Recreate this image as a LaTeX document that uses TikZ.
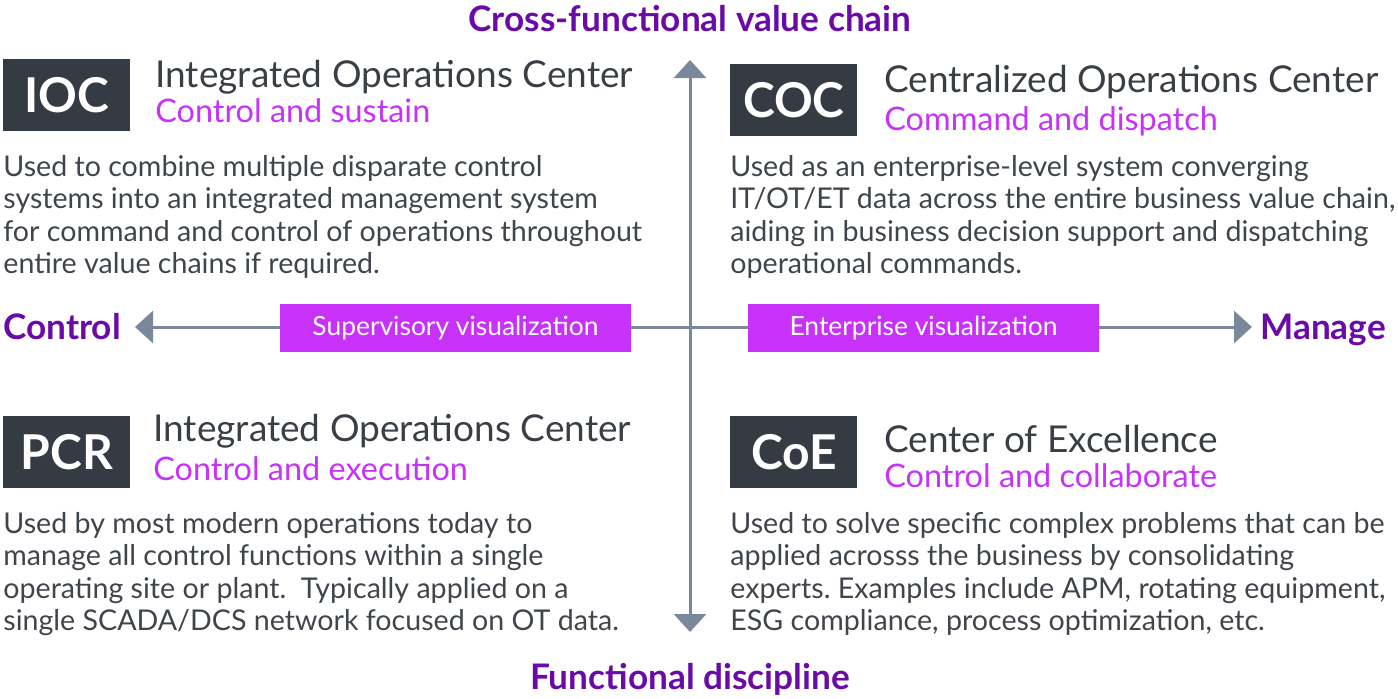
\documentclass[tikz,border=0pt]{standalone}
\usepackage{fontspec}
\setmainfont{Lato}
\usetikzlibrary{arrows.meta,positioning}
\definecolor{tagdark}{HTML}{353B42}
\definecolor{headgray}{HTML}{3A3F45}
\definecolor{bodygray}{HTML}{40454C}
\definecolor{vizmag}{HTML}{C832F8}
\definecolor{axpurple}{HTML}{6A0BA8}
\definecolor{axisgray}{HTML}{7A889C}
\newcommand{\bodyfont}{\frenchspacing\fontsize{14.3}{16.25}\selectfont}

\begin{document}
\begin{tikzpicture}[x=0.5pt,y=-0.5pt,
    tag/.style={fill=tagdark,text=white,font=\bfseries\fontsize{24}{24}\selectfont,
        minimum width=63.5pt,minimum height=36pt,inner sep=0pt,anchor=north west},
    heading/.style={text=headgray,font=\fontsize{18.5}{20}\selectfont,inner sep=0pt,anchor=base west},
    motto/.style={text=vizmag,font=\fontsize{16.2}{18}\selectfont,inner sep=0pt,anchor=base west},
    blurb/.style={text=bodygray,font=\bodyfont,align=left,inner sep=0pt,anchor=base west},
    viz/.style={fill=vizmag,text=white,font=\fontsize{13.2}{15}\selectfont,
        minimum width=175.5pt,minimum height=24pt,inner sep=0pt},
    dimension/.style={text=axpurple,font=\bfseries\fontsize{17.6}{20}\selectfont,inner sep=0pt},
    axis/.style={draw=axisgray,line width=1.5pt,{Triangle[width=16pt,length=9pt]}-{Triangle[width=16pt,length=9pt]}}]

    \useasboundingbox (0,0) rectangle (1398,698);

    % axes
    \coordinate (o) at (690,327);
    \coordinate (west) at (135,327);
    \coordinate (east) at (1252,327);
    \coordinate (north) at (690,60);
    \coordinate (south) at (690,632);
    \draw[axis] (west) -- (east);
    \draw[axis] (north) -- (south);

    \node[viz] (supv) at (455.5,328) {Supervisory visualization};
    \node[viz] (entv) at (923.5,328) {Enterprise visualization};

    \node[dimension,anchor=base] (valuechain) at (690,31) {Cross-functional value chain};
    \node[dimension,anchor=base] (discipline) at (690,689) {Functional discipline};
    \node[dimension,anchor=base west] (control) at (3,339) {Control};
    \node[dimension,anchor=base west] (manage) at (1260,339) {Manage};

    % upper left (blurb anchored on its last baseline)
    \node[tag] (ioc) at (3,59) {IOC};
    \node[heading] (iocT) at (155,87) {Integrated Operations Center};
    \node[motto] (iocS) at (155,122) {Control and sustain};
    \node[blurb] (iocB) at (3,273.5) {Used to combine multiple disparate control\\
        systems into an integrated management system\\
        for command and control of operations throughout\\
        entire value chains if required.};

    % upper right
    \node[tag] (coc) at (730,64) {COC};
    \node[heading] (cocT) at (884,92) {Centralized Operations Center};
    \node[motto] (cocS) at (884,130) {Command and dispatch};
    \node[blurb] (cocB) at (730,273.5) {Used as an enterprise-level system converging\\
        IT/OT/ET data across the entire business value chain,\\
        aiding in business decision support and dispatching\\
        operational commands.};

    % lower left
    \node[tag] (pcr) at (3,416) {PCR};
    \node[heading] (pcrT) at (153,441) {Integrated Operations Center};
    \node[motto] (pcrS) at (153,480) {Control and execution};
    \node[blurb] (pcrB) at (3,630.5) {Used by most modern operations today to\\
        manage all control functions within a single\\
        operating site or plant.\ \ Typically applied on a\\
        single SCADA/DCS network focused on OT data.};

    % lower right
    \node[tag] (coe) at (730,416) {CoE};
    \node[heading] (coeT) at (884,452) {Center of Excellence};
    \node[motto] (coeS) at (884,487) {Control and collaborate};
    \node[blurb] (coeB) at (730,630.5) {Used to solve specific complex problems that can be\\
        applied acrosss the business by consolidating\\
        experts. Examples include APM, rotating equipment,\\
        ESG compliance, process optimization, etc.};
\end{tikzpicture}
\end{document}
